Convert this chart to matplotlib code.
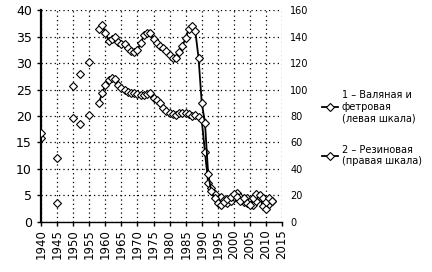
#------------------------------------------------------------------------------------------------------------------
#   Footwear production chart (two scales)
#------------------------------------------------------------------------------------------------------------------

import numpy as np
import matplotlib
matplotlib.use('Agg')
import matplotlib.pyplot as plt

#------------------------------------------------------------------------------------------------------------------
#   Data
#------------------------------------------------------------------------------------------------------------------
early_years = [1940, 1945, 1950, 1952, 1955]
felt_early = [15.8, 3.6, 19.6, 18.5, 20.2]          # left scale
rubber_early = [67, 48, 103, 112, 121]              # right scale

years = list(range(1958, 2013))
felt = [22.5, 24.3, 25.8, 26.8, 27.2, 26.9, 25.8, 25.3, 24.9, 24.6,
        24.4, 24.3, 24.1, 24.0, 24.0, 24.2, 24.3, 23.4, 23.0, 22.5,
        21.5, 20.9, 20.6, 20.3, 20.2, 20.6, 20.5, 20.6, 20.3, 20.0,
        20.2, 19.8, 19.2, 13.2, 7.4, 6.5, 5.2, 4.2, 4.8, 4.2,
        3.5, 4.0, 4.8, 5.5, 4.8, 3.8, 4.5, 4.0, 3.2, 4.0,
        4.8, 3.0, 2.5, 3.4, 4.0]
rubber = [146, 149, 143, 137, 138, 140, 136, 134, 134, 131,
          129, 128, 130, 135, 141, 143, 143, 138, 135, 133,
          131, 129, 126, 124, 124, 128, 133, 139, 146, 148,
          144, 124, 90, 75, 36, 23, 18, 14, 13, 15,
          17, 19, 21, 19, 16, 18, 14, 13, 18, 21,
          20, 18, 15, 18, 16]

left_ticks = list(range(0, 41, 5))
right_ticks = list(range(0, 161, 20))
x_ticks = list(range(1940, 2016, 5))

label_felt = '1 – Валяная и\nфетровая\n(левая шкала)'
label_rubber = '2 – Резиновая\n(правая шкала)'

#------------------------------------------------------------------------------------------------------------------
#   Plot
#------------------------------------------------------------------------------------------------------------------
plt.rcParams['font.family'] = ['DejaVu Sans']

fig = plt.figure(figsize=(4.32, 2.72), dpi=100)
ax = fig.add_axes([0.095, 0.184, 0.558, 0.779])
ax2 = ax.twinx()

mk = dict(marker='D', markersize=4, markerfacecolor='white', markeredgecolor='black',
          markeredgewidth=0.8)

ax.plot(early_years, felt_early, linestyle='none', **mk)
l1, = ax.plot(years, felt, color='black', linewidth=1.3, label=label_felt, **mk)
ax2.plot(early_years, rubber_early, linestyle='none', **mk)
l2, = ax2.plot(years, rubber, color='black', linewidth=1.3, label=label_rubber, **mk)

ax.set_xlim(1940, 2015)
ax.set_ylim(0, 40)
ax2.set_ylim(0, 160)
ax.set_xticks(x_ticks)
ax.set_xticklabels([str(y) for y in x_ticks], rotation=90, fontsize=8.5)
ax.set_yticks(left_ticks)
ax.tick_params(axis='y', labelsize=9, length=3, width=1)
ax.tick_params(axis='x', length=3, width=1, pad=2)
ax2.set_yticks(right_ticks)
ax2.tick_params(axis='y', labelsize=7, length=0, pad=6)

ax.grid(True, linestyle=(0, (1, 2.5)), color='black', linewidth=0.9)
ax.set_axisbelow(True)
for s in ['top', 'right']:
    ax.spines[s].set_visible(False)
    ax2.spines[s].set_visible(False)
ax2.spines['left'].set_visible(False)
ax2.spines['bottom'].set_visible(False)
ax.spines['left'].set_linewidth(1.6)
ax.spines['bottom'].set_linewidth(1.0)

ax2.legend(handles=[l1, l2], loc='upper left', bbox_to_anchor=(1.15, 0.64),
           frameon=False, fontsize=7, labelspacing=2.2, handlelength=1.6,
           handletextpad=0.4, borderaxespad=0)

fig.savefig('out.png', dpi=100)

#------------------------------------------------------------------------------------------------------------------
#   End of file
#------------------------------------------------------------------------------------------------------------------
